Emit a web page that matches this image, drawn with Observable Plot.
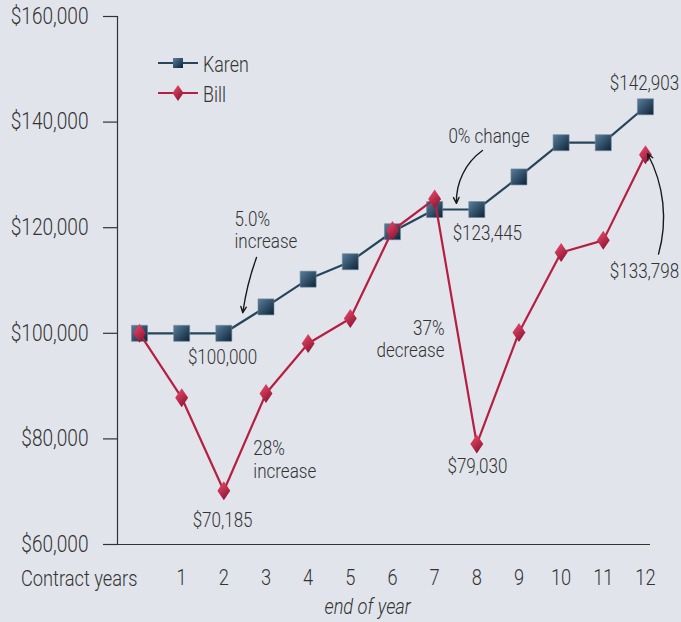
<!DOCTYPE html>
<html><head><meta charset="utf-8">
<script src="https://cdn.jsdelivr.net/npm/d3@7"></script>
<script src="https://cdn.jsdelivr.net/npm/@observablehq/plot@0.6"></script>
<style>
html,body{margin:0;padding:0;background:#e1e4eb;}
#chart svg{display:block;}
#chart svg text{font-weight:300;}
</style></head><body><div id="chart"></div>
<script>
// ---- data ----
const years = [0,1,2,3,4,5,6,7,8,9,10,11,12];
const karen = [100000,100000,100000,105000,110250,113558,119236,123445,123445,129617,136098,136098,142903];
const bill  = [100000,87800,70185,88600,98070,102800,119470,125444,79030,100150,115300,117600,133798];
const seriesNames = ["Karen","Bill"];
const yTicks = [60000,80000,100000,120000,140000,160000];
const xTicks = [1,2,3,4,5,6,7,8,9,10,11,12];
const firstTickLabel = "Contract years";
const xTitle = "end of year";
// annotations: text, x (year), y (value), anchor
const notes = [
  {text:"5.0%\nincrease", x:2.253, y:116061, anchor:"start"},
  {text:"0% change", x:7.327, y:135947, anchor:"start"},
  {text:"$142,903", x:12.8, y:145985, anchor:"end"},
  {text:"$133,798", x:12.8, y:110379, anchor:"end"},
  {text:"$123,445", x:8.25, y:117576, anchor:"middle"},
  {text:"$100,000", x:1.97, y:94280, anchor:"middle"},
  {text:"$70,185", x:1.97, y:63220, anchor:"middle"},
  {text:"28%\nincrease", x:2.70, y:72689, anchor:"start"},
  {text:"37%\ndecrease", x:7.233, y:95417, anchor:"end"},
  {text:"$79,030", x:8.015, y:73447, anchor:"middle"}
];
const arrows = [
  {x1:2.775, y1:114356, x2:2.45, y2:103900, bend:-6},
  {x1:8.134, y1:134621, x2:7.517, y2:124600, bend:-28},
  {x1:12.31, y1:115000, x2:12.05, y2:134000, bend:-22}
];

// ---- styling ----
const FONT = "Roboto,'Liberation Sans',Arial,sans-serif";
const SQUEEZE = 0.83;
const KAREN_LINE = "#26455c", BILL_LINE = "#b61f40";
const xDomain = [-0.522, 12.12];
const yDomain = [60000, 160000];

const table = years.map((x,i)=>({x, karen:karen[i], bill:bill[i]}));

const squareSym = {draw(ctx,size){const s=Math.sqrt(size/Math.PI); ctx.rect(-s,-s,2*s,2*s);}};
const diamondSym = {draw(ctx,size){const h=Math.sqrt(size/Math.PI), w=h*0.68;
  ctx.moveTo(0,-h); ctx.lineTo(w,0); ctx.lineTo(0,h); ctx.lineTo(-w,0); ctx.closePath();}};

function defsMark(){
  const defs = d3.create("svg:defs");
  const g1 = defs.append("linearGradient").attr("id","gradK").attr("x1",0).attr("y1",0).attr("x2",1).attr("y2",1);
  g1.append("stop").attr("offset","0%").attr("stop-color","#5a7f9c");
  g1.append("stop").attr("offset","100%").attr("stop-color","#0b2236");
  const g2 = defs.append("linearGradient").attr("id","gradB").attr("x1",0.2).attr("y1",0).attr("x2",0.8).attr("y2",1);
  g2.append("stop").attr("offset","0%").attr("stop-color","#ea4a68");
  g2.append("stop").attr("offset","100%").attr("stop-color","#871030");
  return defs.node();
}

function legendMark(){
  const g = d3.create("svg:g");
  const items = [
    {name:seriesNames[0], y:63, color:KAREN_LINE, sym:"sq"},
    {name:seriesNames[1], y:93, color:BILL_LINE, sym:"di"}
  ];
  for(const it of items){
    g.append("line").attr("x1",158).attr("x2",198).attr("y1",it.y).attr("y2",it.y)
      .attr("stroke",it.color).attr("stroke-width",2);
    if(it.sym==="sq"){
      g.append("rect").attr("x",173).attr("y",it.y-5).attr("width",10).attr("height",10).attr("fill","url(#gradK)");
    } else {
      g.append("path").attr("d",`M178,${it.y-8}L183.5,${it.y}L178,${it.y+8}L172.5,${it.y}Z`).attr("fill","url(#gradB)");
    }
    g.append("text").attr("x",203).attr("y",it.y+8.5).attr("fill","#333").attr("text-anchor","start")
      .attr("font-family",FONT).attr("font-size",21.5).text(it.name);
  }
  return g.node();
}

const noteMarks = ["start","middle","end"].map(a =>
  Plot.text(notes.filter(n=>n.anchor===a), {x:"x", y:"y", text:"text", textAnchor:a, lineAnchor:"bottom", lineHeight:1.1, fontSize:20.5, fill:"#333"}));
const arrowMarks = arrows.map(a =>
  Plot.arrow([a], {x1:"x1", y1:"y1", x2:"x2", y2:"y2", bend:a.bend, stroke:"#1a1a1a", strokeWidth:1.4, headLength:7, headAngle:50}));

const chart = Plot.plot({
  width:681, height:622,
  marginLeft:117, marginRight:31, marginTop:16, marginBottom:78,
  style:{background:"transparent", fontFamily:FONT, color:"#333", overflow:"visible"},
  x:{domain:xDomain, type:"linear"},
  y:{domain:yDomain},
  marks:[
    defsMark,
    Plot.axisY({ticks:yTicks, tickSize:14, tickPadding:15, fontSize:23, strokeWidth:1.2,
      tickFormat:d=>"$"+d3.format(",")(d), label:null}),
    Plot.axisX({ticks:xTicks, tickSize:0, tickPadding:25, fontSize:22, label:null, tickFormat:d=>String(d)}),
    Plot.ruleX([xDomain[0]], {y1:yDomain[0], y2:yDomain[1], stroke:"#333", strokeWidth:1.2}),
    Plot.ruleY([yDomain[0]], {x1:xDomain[0], x2:xDomain[1], stroke:"#333", strokeWidth:1.2}),
    Plot.text([firstTickLabel], {x:0, y:yDomain[0], text:d=>d, textAnchor:"end", dx:-2, dy:41, lineAnchor:"bottom", fontSize:22, fill:"#333"}),
    Plot.text([xTitle], {x:5.41, y:yDomain[0], text:d=>d, textAnchor:"middle", dy:69, lineAnchor:"bottom", fontSize:22, fontStyle:"italic", fill:"#333"}),
    Plot.line(table, {x:"x", y:"karen", stroke:KAREN_LINE, strokeWidth:2.2}),
    Plot.dot(table, {x:"x", y:"karen", symbol:squareSym, r:8, fill:"url(#gradK)", stroke:"#6e879c", strokeWidth:0.6}),
    Plot.line(table, {x:"x", y:"bill", stroke:BILL_LINE, strokeWidth:2.2}),
    Plot.dot(table, {x:"x", y:"bill", symbol:diamondSym, r:9.5, fill:"url(#gradB)"}),
    ...noteMarks,
    ...arrowMarks,
    legendMark
  ]
});
document.getElementById("chart").appendChild(chart);

// condense all text horizontally (narrow typeface look)
function squeeze(el){
  const len = el.getComputedTextLength();
  if(len>0){ el.setAttribute("textLength", (len*SQUEEZE).toFixed(2)); el.setAttribute("lengthAdjust","spacingAndGlyphs"); }
}
chart.querySelectorAll("text").forEach(t=>{
  const spans = t.querySelectorAll("tspan");
  if(spans.length) spans.forEach(squeeze); else squeeze(t);
});
</script>
</body></html>
